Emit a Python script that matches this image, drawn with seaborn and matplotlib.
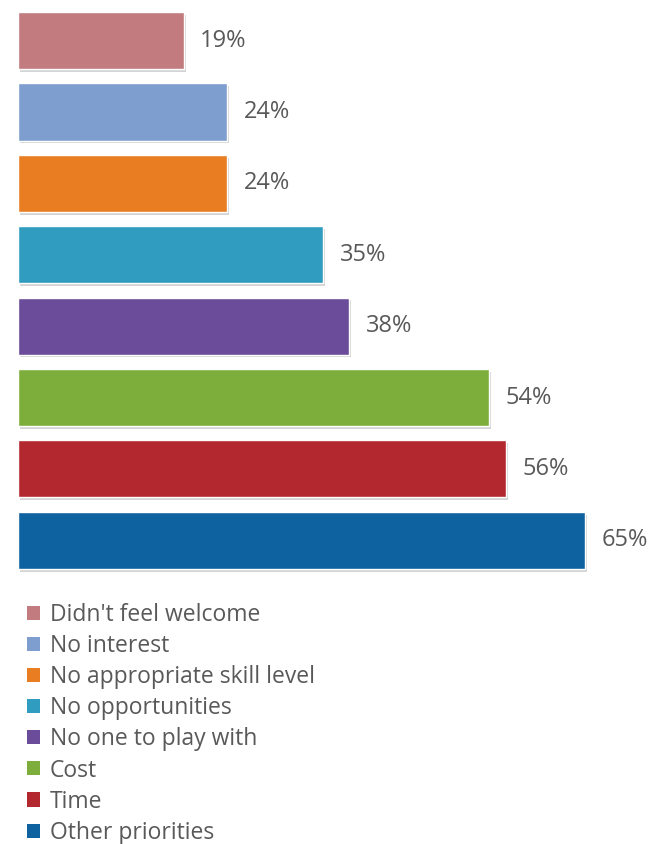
import matplotlib
matplotlib.use("Agg")
import matplotlib.pyplot as plt
import matplotlib.patheffects as pe
from matplotlib.patches import Patch
import seaborn as sns
import pandas as pd

categories = ["Didn't feel welcome", "No interest", "No appropriate skill level",
              "No opportunities", "No one to play with", "Cost", "Time", "Other priorities"]
values = [19, 24, 24, 35, 38, 54, 56, 65]
labels = ["19%", "24%", "24%", "35%", "38%", "54%", "56%", "65%"]
colors = ["#C27B7E", "#7E9ED0", "#E97D22", "#2F9CC0", "#6A4C9A", "#7DAE3C", "#B3282E", "#0F62A0"]

df = pd.DataFrame({"cat": categories, "val": values})

sns.set_theme(style="white")
plt.rcParams['font.family'] = ['Open Sans', 'DejaVu Sans']

fig = plt.figure(figsize=(6.62, 8.44), dpi=100)
ax = fig.add_axes([18/662, 1-576/844, 1-18/662, (576-4.9)/844])

sns.barplot(data=df, y="cat", x="val", hue="cat", palette=dict(zip(categories, colors)),
            dodge=False, legend=False, width=0.8, ax=ax, saturation=1)

for p in ax.patches:
    p.set_path_effects([pe.SimplePatchShadow(offset=(1.5, -2), alpha=0.25, shadow_rgbFace="#555555"), pe.Normal()])

for i, (v, t) in enumerate(zip(values, labels)):
    ax.text(v + 1.9, i, t, va="center", ha="left", fontsize=17, color="#595959")

ax.set_xlim(0, (662-18)/8.72)
ax.set_ylim(7.5, -0.5)
ax.axis("off")

handles = [Patch(facecolor=c, edgecolor="none") for c in colors]
fig.legend(handles, categories, loc="upper left", bbox_to_anchor=(27/662, 1-603/844),
           frameon=False, fontsize=16.5, labelcolor="#595959",
           handlelength=0.57, handleheight=0.57, handletextpad=0.42, labelspacing=0.31,
           borderpad=0, borderaxespad=0)

fig.savefig("out.png", dpi=100, facecolor="white")
